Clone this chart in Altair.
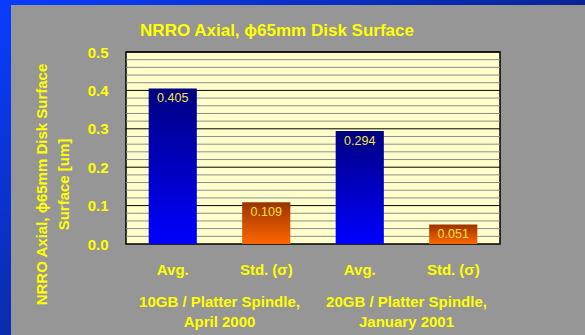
import altair as alt
import pandas as pd

# ---- data ----
keys = ["avg_2000", "std_2000", "avg_2001", "std_2001"]
bar_labels = ["Avg.", "Std. (σ)", "Avg.", "Std. (σ)"]
kinds = ["avg", "std", "avg", "std"]
values = [0.405, 0.109, 0.294, 0.051]
value_text = ["0.405", "0.109", "0.294", "0.051"]

group_keys = ["avg_2000", "avg_2001"]
group_text = ["10GB / Platter Spindle,\nApril 2000", "20GB / Platter Spindle,\nJanuary 2001"]

y_ticks = [0.0, 0.1, 0.2, 0.3, 0.4, 0.5]
major_grid = [0.1, 0.2, 0.3, 0.4, 0.5]
minor_grid = [0.02, 0.04, 0.06, 0.08, 0.12, 0.14, 0.16, 0.18,
              0.22, 0.24, 0.26, 0.28, 0.32, 0.34, 0.36, 0.38,
              0.42, 0.44, 0.46, 0.48]

title_text = "NRRO Axial, \u03d565mm Disk Surface"
y_title = ["NRRO Axial, \u03d565mm Disk Surface", "Surface [um]"]

bars = pd.DataFrame({"key": keys, "label": bar_labels, "kind": kinds,
                     "value": values, "text": value_text})
groups = pd.DataFrame({"key": group_keys, "text": group_text})
minor_df = pd.DataFrame({"value": minor_grid})
major_df = pd.DataFrame({"value": major_grid})
title_df = pd.DataFrame({"text": [title_text]})

FONT = "Liberation Sans"
YEL = "#FFFF00"

yscale = alt.Scale(domain=[0, 0.5], nice=False, zero=True)
xscale = alt.Scale(domain=keys, paddingInner=0.485, paddingOuter=0.2425)

label_expr = "indexof(datum.value, 'avg') == 0 ? 'Avg.' : 'Std. (\u03c3)'"

x_axis = alt.Axis(title=None, labelExpr=label_expr, labelAngle=0,
                  labelFont=FONT, labelFontSize=15, labelFontWeight="bold",
                  labelColor=YEL, labelPadding=18, ticks=False, domain=False,
                  grid=False)
y_axis = alt.Axis(values=y_ticks, format=".1f", grid=False, ticks=False,
                  domain=False, labelFont=FONT, labelFontSize=15,
                  labelFontWeight="bold", labelColor=YEL, labelPadding=18,
                  title=y_title, titleFont=FONT, titleFontSize=15,
                  titleFontWeight="bold", titleColor=YEL, titleAngle=270,
                  titleAlign="center", titleBaseline="top",
                  titleX=-92, titleY=132, titleLineHeight=22)

X = alt.X("key:N", scale=xscale, sort=keys, axis=x_axis)
Y = alt.Y("value:Q", scale=yscale, axis=y_axis)

minor = alt.Chart(minor_df).mark_rule(color="#8c8c8c", strokeWidth=1).encode(y=Y)
major = alt.Chart(major_df).mark_rule(color="#000000", strokeWidth=1).encode(y=Y)

blue_grad = alt.Gradient(
    gradient="linear",
    stops=[alt.GradientStop(color="#000080", offset=0),
           alt.GradientStop(color="#0000FF", offset=1)],
    x1=0, x2=0, y1=0, y2=1,
)
orange_grad = alt.Gradient(
    gradient="linear",
    stops=[alt.GradientStop(color="#993300", offset=0),
           alt.GradientStop(color="#FF6600", offset=1)],
    x1=0, x2=0, y1=0, y2=1,
)

avg_bars = alt.Chart(bars).transform_filter("datum.kind == 'avg'").mark_bar(
    color=blue_grad
).encode(x=X, y=Y)

std_bars = alt.Chart(bars).transform_filter("datum.kind == 'std'").mark_bar(
    color=orange_grad
).encode(x=X, y=Y)

value_labels = alt.Chart(bars).mark_text(
    font=FONT, fontSize=12.5, color="#F2E43A", baseline="top", dy=4, align="center"
).encode(x=X, y=Y, text="text:N")

group_labels = alt.Chart(groups).mark_text(
    font=FONT, fontSize=15, fontWeight="bold", color=YEL, align="center",
    baseline="alphabetic", lineBreak="\n", lineHeight=20, dx=46.75
).encode(x=X, y=alt.value(255), text="text:N")

chart_title = alt.Chart(title_df).mark_text(
    font=FONT, fontSize=17, fontWeight="bold", color=YEL, align="center",
    baseline="middle"
).encode(x=alt.value(151), y=alt.value(-21), text="text:N")

# decorative blue frame strips (left and top)
left_strip = alt.Chart(pd.DataFrame({"a": [0]})).mark_rect(
    color=alt.Gradient(gradient="linear",
                       stops=[alt.GradientStop(color="#0A3CFF", offset=0),
                              alt.GradientStop(color="#0A2CAE", offset=1)],
                       x1=0, x2=0, y1=0, y2=1)
).encode(x=alt.value(-126), x2=alt.value(-115), y=alt.value(-52), y2=alt.value(283))

top_strip = alt.Chart(pd.DataFrame({"a": [0]})).mark_rect(
    color=alt.Gradient(gradient="linear",
                       stops=[alt.GradientStop(color="#0A3CFF", offset=0),
                              alt.GradientStop(color="#0A2496", offset=1)],
                       x1=0, x2=1, y1=0, y2=0)
).encode(x=alt.value(-126), x2=alt.value(459), y=alt.value(-52), y2=alt.value(-47))

chart = alt.layer(
    minor, major, avg_bars, std_bars, value_labels, group_labels, chart_title,
    left_strip, top_strip
).properties(
    width=374,
    height=192,
    padding={"left": 126, "top": 52, "right": 85, "bottom": 91},
    autosize=alt.AutoSizeParams(type="none"),
    background="#969696",
).configure_view(
    fill="#FFFFCC", stroke="#000000", strokeWidth=1.5
)

chart.save("out.html", embed_options={"renderer": "svg", "actions": False})
